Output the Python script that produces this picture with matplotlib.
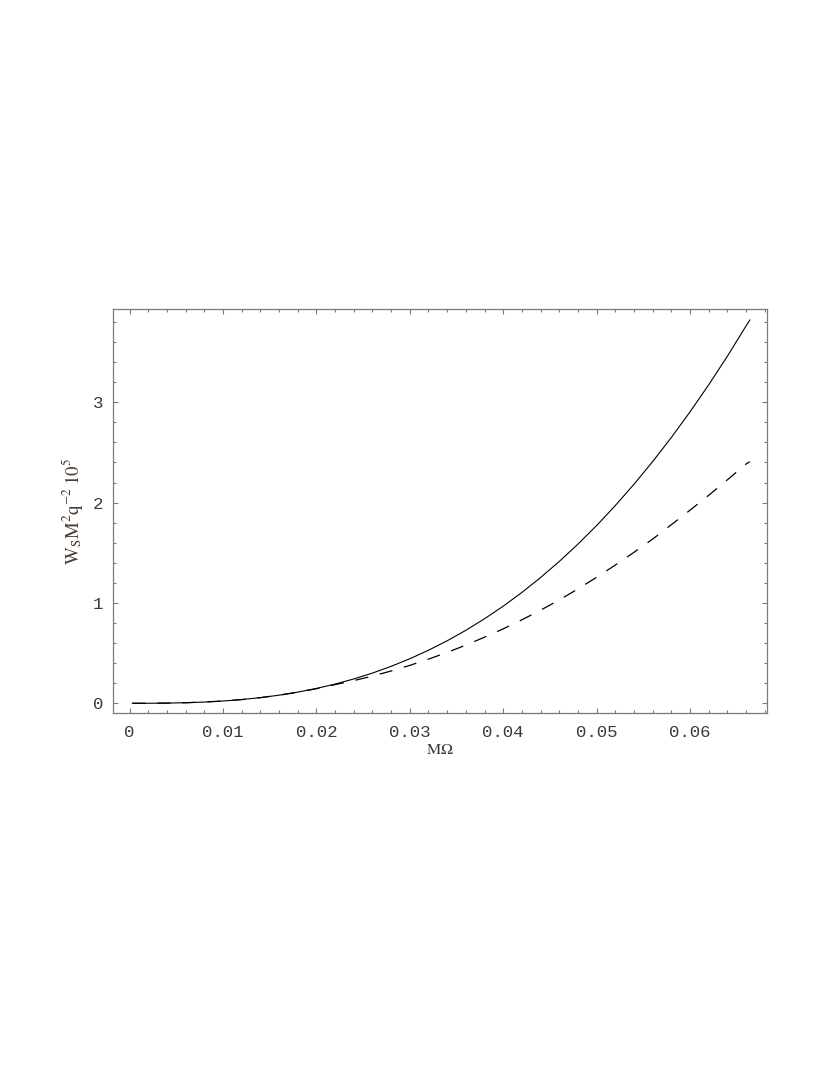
import matplotlib
matplotlib.use("Agg")
import matplotlib.pyplot as plt
from matplotlib.ticker import MultipleLocator, FixedFormatter, FixedLocator

# Data
solid_x = [0.0003, 0.002, 0.004, 0.006, 0.008, 0.010, 0.012, 0.014, 0.016, 0.018,
           0.020, 0.022, 0.024, 0.026, 0.028, 0.030, 0.032, 0.034, 0.036, 0.038,
           0.040, 0.042, 0.044, 0.046, 0.048, 0.050, 0.052, 0.054, 0.056, 0.058,
           0.060, 0.062, 0.064, 0.066, 0.0664]
solid_y = [0.0, 0.0003, 0.0019, 0.0057, 0.0124, 0.0226, 0.0371, 0.0563, 0.0808, 0.1112,
           0.148, 0.1916, 0.2425, 0.3012, 0.3683, 0.444, 0.5288, 0.6232, 0.7276, 0.8425,
           0.968, 1.105, 1.2535, 1.4137, 1.5867, 1.772, 1.971, 2.1836, 2.4094, 2.6498,
           2.905, 3.175, 3.460, 3.762, 3.82]

dash_x = [0.0003, 0.002, 0.004, 0.006, 0.008, 0.010, 0.012, 0.014, 0.016, 0.018,
          0.020, 0.022, 0.024, 0.026, 0.028, 0.030, 0.032, 0.034, 0.036, 0.038,
          0.040, 0.042, 0.044, 0.046, 0.048, 0.050, 0.052, 0.054, 0.056, 0.058,
          0.060, 0.062, 0.064, 0.066, 0.0664]
dash_y = [0.0, 0.0003, 0.0019, 0.0057, 0.0124, 0.0226, 0.0371, 0.0563, 0.0806, 0.1105,
          0.145, 0.186, 0.226, 0.271, 0.322, 0.378, 0.440, 0.507, 0.580, 0.659,
          0.742, 0.832, 0.928, 1.030, 1.140, 1.256, 1.378, 1.505, 1.637, 1.780,
          1.925, 2.073, 2.228, 2.385, 2.408]

xticks = [0, 0.01, 0.02, 0.03, 0.04, 0.05, 0.06]
xtick_labels = ["0", "0.01", "0.02", "0.03", "0.04", "0.05", "0.06"]
yticks = [0, 1, 2, 3]
ytick_labels = ["0", "1", "2", "3"]

plt.rcParams['mathtext.fontset'] = 'stix'

fig = plt.figure(figsize=(8.3, 10.75), dpi=100)
ax = fig.add_axes([0.1365, 0.3370, 0.9237 - 0.1365, 0.7123 - 0.3370])

ax.plot(solid_x, solid_y, color='black', lw=0.8)
ax.plot(dash_x, dash_y, color='black', lw=0.9, dashes=(10.5, 9.5))

ax.set_xlim(-0.00174, 0.0682)
ax.set_ylim(-0.094, 3.927)

spine_col = '#7a7a7a'
for s in ax.spines.values():
    s.set_color(spine_col)
    s.set_linewidth(0.9)

ax.xaxis.set_major_locator(FixedLocator(xticks))
ax.xaxis.set_major_formatter(FixedFormatter(xtick_labels))
ax.xaxis.set_minor_locator(MultipleLocator(0.002))
ax.yaxis.set_major_locator(FixedLocator(yticks))
ax.yaxis.set_major_formatter(FixedFormatter(ytick_labels))
ax.yaxis.set_minor_locator(MultipleLocator(0.2))

ax.tick_params(which='both', direction='in', top=True, right=True, color=spine_col,
               labelcolor='#3a3a3a', labelsize=12.5, width=0.8)
ax.tick_params(which='major', length=3.8)
ax.tick_params(which='minor', length=2.0)
ax.tick_params(axis='x', which='major', pad=9)
ax.tick_params(axis='y', which='major', pad=7)
for lab in ax.get_xticklabels() + ax.get_yticklabels():
    lab.set_family('Liberation Mono')

ax.set_xlabel(r'$\mathrm{M\Omega}$', fontsize=11.5, color='#3a3a3a', labelpad=1)
ax.set_ylabel(r'$\mathrm{W_S M^2 q^{-2}\;10^5}$', fontsize=13.5, color='#4a3a30', labelpad=6)

fig.savefig('out.png', dpi=100)
